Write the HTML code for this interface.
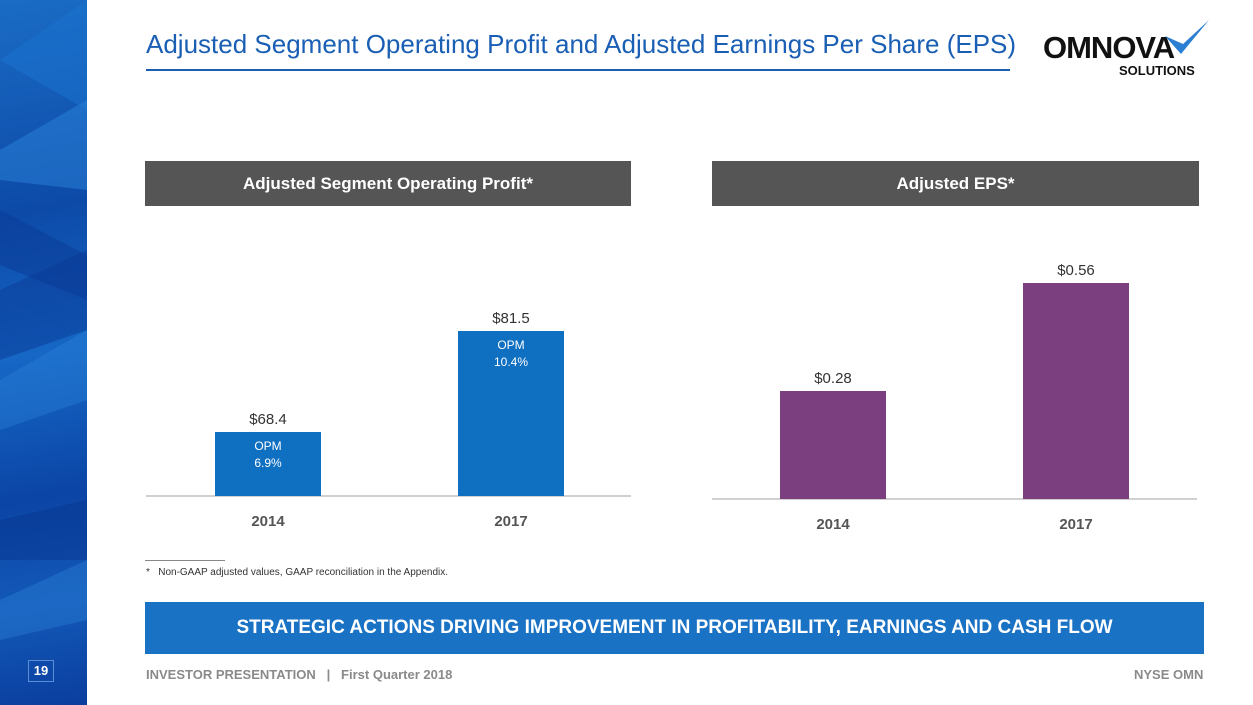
<!DOCTYPE html>
<html><head><meta charset="utf-8"><style>
body{margin:0;width:1253px;height:705px;position:relative;overflow:hidden;background:#fff;font-family:"Liberation Sans",Arial,sans-serif}
.a{position:absolute}
</style></head><body>
<div class="a" style="left:0;top:0;width:87px;height:705px;background:linear-gradient(170deg,#1a6cc4 0%,#0d4aa8 30%,#1667c6 50%,#0b45a5 70%,#1359b8 85%,#0a3e9e 100%)">
<svg width="87" height="705" style="position:absolute;left:0;top:0">
<polygon points="0,60 87,110 87,0" fill="#1a74cf" opacity=".5"/>
<polygon points="0,150 87,100 87,190 0,180" fill="#2a82d8" opacity=".5"/>
<polygon points="0,210 87,255 87,300 0,265" fill="#0a3a96" opacity=".5"/>
<polygon points="0,290 87,250 87,330 0,360" fill="#0a3a96" opacity=".5"/>
<polygon points="0,380 87,330 87,400 0,430" fill="#2a82d8" opacity=".4"/>
<polygon points="0,520 87,500 87,560 0,560" fill="#083590" opacity=".5"/>
<polygon points="0,600 87,560 87,620 0,640" fill="#2a82d8" opacity=".4"/>
</svg>
<div class="a" style="left:28px;top:660px;width:24px;height:20px;border:1px solid #5a8fd8;color:#fff;font-size:13px;font-weight:bold;text-align:center;line-height:20px">19</div>
</div>
<div class="a" style="left:146px;top:29px;font-size:26px;color:#1a5fb4">Adjusted Segment Operating Profit and Adjusted Earnings Per Share (EPS)</div>
<div class="a" style="left:146px;top:69px;width:864px;height:2px;background:#1a5fb4"></div>
<div class="a" style="left:1043px;top:30px;width:170px;height:50px">
<div class="a" style="left:0;top:0;font-size:31px;font-weight:bold;letter-spacing:-1px;color:#111">OMNOVA</div>
<svg class="a" style="left:120px;top:-12px" width="50" height="40"><path d="M2,18 L18,36 L46,2 L20,26 Z" fill="#2a7fd2"/></svg>
<div class="a" style="left:76px;top:33px;font-size:13px;font-weight:bold;color:#111">SOLUTIONS</div>
</div>
<div class="a" style="left:145px;top:161px;width:486px;height:45px;background:#555;color:#fff;font-size:17px;font-weight:bold;text-align:center;line-height:45px">Adjusted Segment Operating Profit*</div>
<div class="a" style="left:712px;top:161px;width:487px;height:45px;background:#555;color:#fff;font-size:17px;font-weight:bold;text-align:center;line-height:45px">Adjusted EPS*</div>
<svg class="a" style="left:0;top:0" width="1253" height="705" id="ch"></svg>
<div class="a" style="left:145px;top:560px;width:80px;height:1px;background:#888"></div>
<div class="a" style="left:146px;top:567px;font-size:10px;color:#333">*&nbsp;&nbsp; Non-GAAP adjusted values, GAAP reconciliation in the Appendix.</div>
<div class="a" style="left:145px;top:602px;width:1059px;height:52px;background:#1a72c4;color:#fff;font-size:19px;font-weight:bold;text-align:center;line-height:52px">STRATEGIC ACTIONS DRIVING IMPROVEMENT IN PROFITABILITY, EARNINGS AND CASH FLOW</div>
<div class="a" style="left:146px;top:667px;font-size:13px;font-weight:bold;color:#8a8a8a">INVESTOR PRESENTATION &nbsp;&nbsp;| &nbsp;&nbsp;First Quarter 2018</div>
<div class="a" style="left:1134px;top:667px;font-size:13px;font-weight:bold;color:#8a8a8a">NYSE OMN</div>
<script>
const years=["2014","2017"];
const opValues=[68.4,81.5];
const opLabels=["$68.4","$81.5"];
const opmLabels=["6.9%","10.4%"];
const epsValues=[0.28,0.56];
const epsLabels=["$0.28","$0.56"];
const svg=document.getElementById('ch');const NS="http://www.w3.org/2000/svg";
function mk(t,a,txt){const e=document.createElementNS(NS,t);for(const k in a)e.setAttribute(k,a[k]);if(txt!=null)e.textContent=txt;svg.appendChild(e);return e;}
function chart(cfg){
 const y=v=>cfg.base-(v-cfg.min)*cfg.k;
 const ax=mk('line',{x1:cfg.x0,x2:cfg.x1,y1:cfg.base,y2:cfg.base,stroke:'#d0d0d0','stroke-width':2});
 
 
 cfg.vals.forEach((v,i)=>{
  const cx=cfg.cx[i];const top=y(v);
  const r=mk('rect',{x:cx-53,y:top,width:106,height:cfg.base-top,fill:cfg.color});
  
  
  const l=mk('text',{x:cx,y:top-8,'text-anchor':'middle','font-size':15,fill:'#333','font-family':'Liberation Sans'},cfg.labels[i]);
  
  
  const t=mk('text',{x:cx,y:cfg.base+30,'text-anchor':'middle','font-size':15,'font-weight':'bold',fill:'#555','font-family':'Liberation Sans'},years[i]);
  
  
  if(cfg.opm){
   const o=mk('text',{x:cx,y:top+18,'text-anchor':'middle','font-size':12,fill:'#fff','font-family':'Liberation Sans'},'OPM');
   
   
   const p=mk('text',{x:cx,y:top+35,'text-anchor':'middle','font-size':12,fill:'#fff','font-family':'Liberation Sans'},cfg.opm[i]);
   
   
  }
 });
}
chart({id:'op',vals:opValues,labels:opLabels,opm:opmLabels,min:60.1,k:7.71,base:496,x0:146,x1:631,cx:[268,511],color:'#0f6fc0'});
chart({id:'eps',vals:epsValues,labels:epsLabels,min:0,k:385.7,base:499,x0:712,x1:1197,cx:[833,1076],color:'#7b3f7f'});
</script>
</body></html>
